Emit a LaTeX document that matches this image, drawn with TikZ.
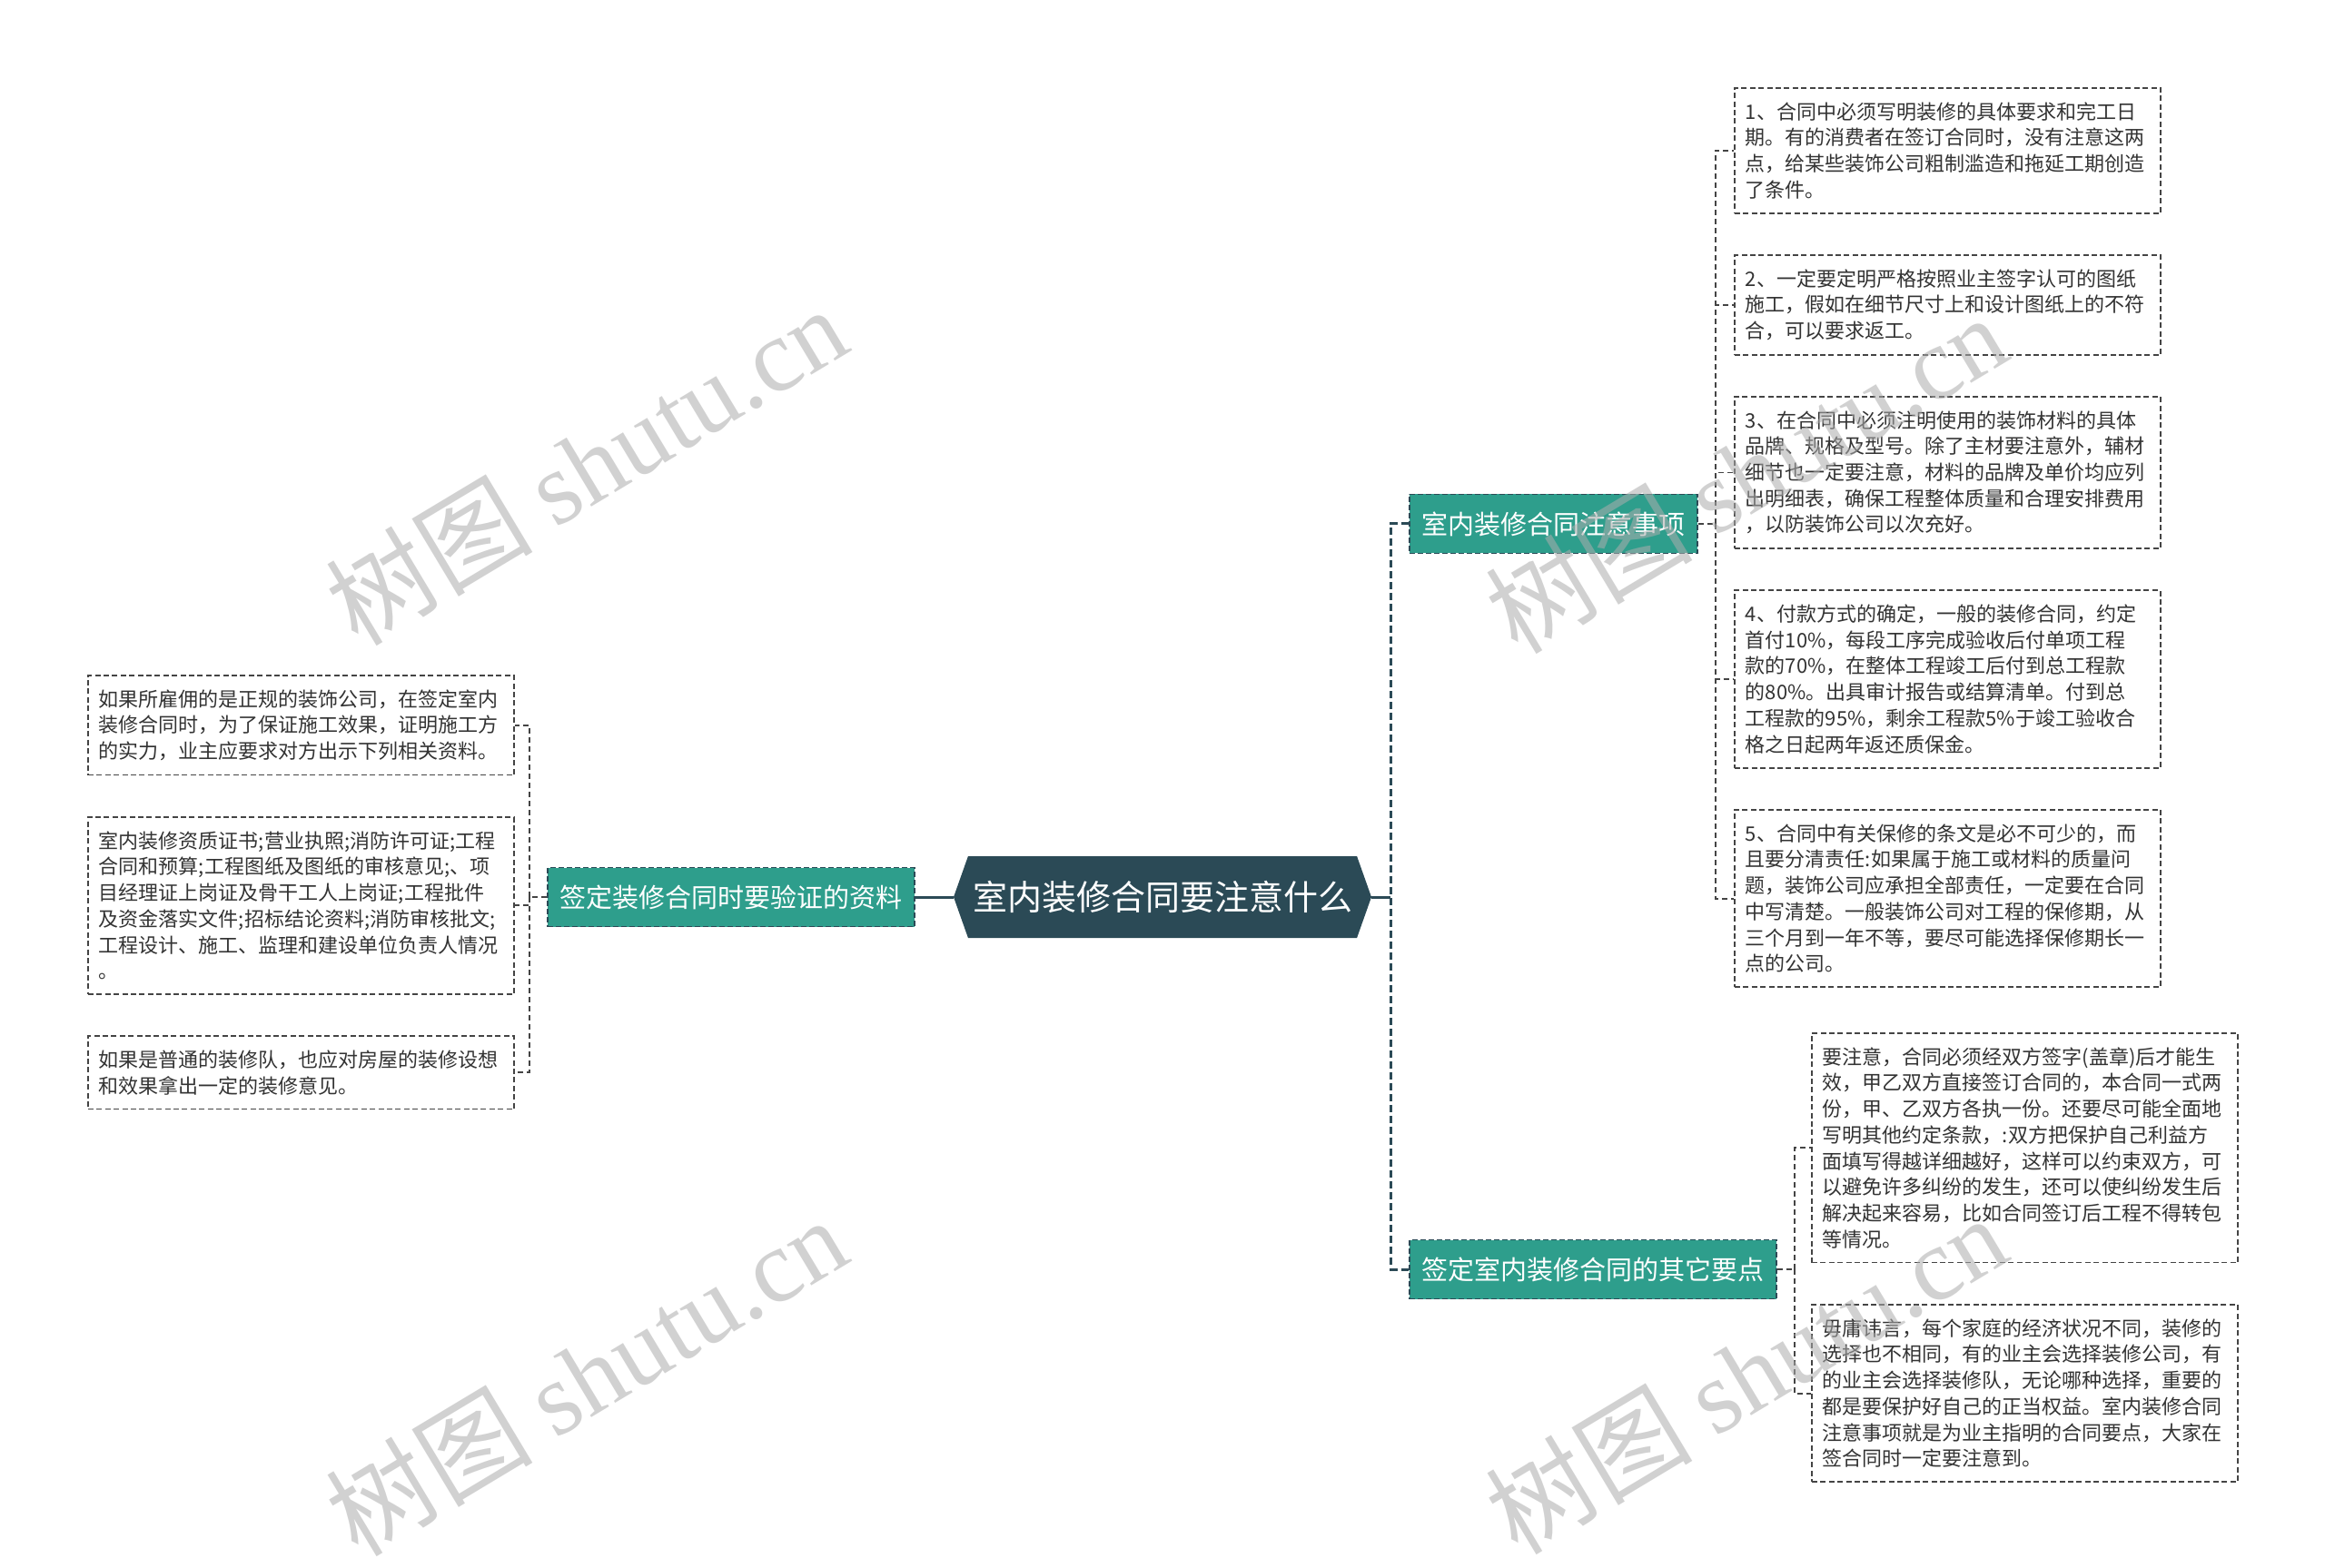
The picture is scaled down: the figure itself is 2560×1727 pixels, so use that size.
\documentclass[tikz,border=0pt]{standalone}
\usepackage{fontspec}
\setmainfont{Noto Sans CJK SC}
\newfontfamily\markfont{Liberation Serif}
\usepackage{xcolor}
\usetikzlibrary{positioning, shapes.symbols}

\definecolor{rootfill}{HTML}{2B4A56}
\definecolor{branchfill}{HTML}{2E9E8C}
\definecolor{leaftext}{HTML}{333333}
\definecolor{linkgray}{HTML}{444444}

\begin{document}
\begin{tikzpicture}[
    x=0.5pt, y=-0.5pt,
    node distance=22.3pt and 21pt,
    root/.style={shape=signal, signal to=west and east, signal pointer angle=141, fill=rootfill, text=white, font=\fontsize{19pt}{22pt}\selectfont, minimum width=230pt, minimum height=45pt, inner xsep=0pt, inner ysep=0pt},
    branch/.style={draw=rootfill, line width=0.8pt, dash pattern=on 3pt off 1.5pt, fill=branchfill, text=white, font=\fontsize{14.5pt}{17pt}\selectfont, minimum height=32.5pt, inner xsep=6.75pt},
    leaf/.style={draw=linkgray, line width=0.9pt, dash pattern=on 3pt off 1.7pt, text=leaftext, font=\fontsize{11pt}{14.35pt}\selectfont, text width=222.5pt, align=left, inner xsep=6pt, inner ysep=7.8pt},
    stem/.style={rootfill, line width=1.5pt},
    trunk/.style={rootfill, line width=1.5pt, dash pattern=on 4pt off 2pt},
    twig/.style={linkgray, line width=0.95pt, dash pattern=on 3pt off 2pt},
    wmark/.style={text=black!32, text opacity=0.55, font=\fontsize{57pt}{60pt}\selectfont, rotate=31}
]
    \fill[white] (0,0) rectangle (2560,1727);
    \useasboundingbox (0,0) rectangle (2560,1727);

    % centre
    \node[root] (root) at (1280,988) {室内装修合同要注意什么};

    % left branch
    \node[branch, left=21pt of root] (lb) {签定装修合同时要验证的资料};
    \node[leaf, anchor=north west] (m1) at (96,743) {如果所雇佣的是正规的装饰公司，在签定室内\\装修合同时，为了保证施工效果，证明施工方\\的实力，业主应要求对方出示下列相关资料。};
    \node[leaf, below=of m1] (m2) {室内装修资质证书;营业执照;消防许可证;工程\\合同和预算;工程图纸及图纸的审核意见;、项\\目经理证上岗证及骨干工人上岗证;工程批件\\及资金落实文件;招标结论资料;消防审核批文;\\工程设计、施工、监理和建设单位负责人情况\\。};
    \node[leaf, below=of m2] (m3) {如果是普通的装修队，也应对房屋的装修设想\\和效果拿出一定的装修意见。};

    % right branches
    \node[branch, anchor=west] (rb1) at (1551,577) {室内装修合同注意事项};
    \node[branch, anchor=west] (rb2) at (1551,1398) {签定室内装修合同的其它要点};

    % notes of first right branch
    \node[leaf, anchor=north west] (n1) at (1909,96) {1、合同中必须写明装修的具体要求和完工日\\期。有的消费者在签订合同时，没有注意这两\\点，给某些装饰公司粗制滥造和拖延工期创造\\了条件。};
    \node[leaf, below=of n1] (n2) {2、一定要定明严格按照业主签字认可的图纸\\施工，假如在细节尺寸上和设计图纸上的不符\\合，可以要求返工。};
    \node[leaf, below=of n2] (n3) {3、在合同中必须注明使用的装饰材料的具体\\品牌、规格及型号。除了主材要注意外，辅材\\细节也一定要注意，材料的品牌及单价均应列\\出明细表，确保工程整体质量和合理安排费用\\，以防装饰公司以次充好。};
    \node[leaf, below=of n3] (n4) {4、付款方式的确定，一般的装修合同，约定\\首付10\%，每段工序完成验收后付单项工程\\款的70\%，在整体工程竣工后付到总工程款\\的80\%。出具审计报告或结算清单。付到总\\工程款的95\%，剩余工程款5\%于竣工验收合\\格之日起两年返还质保金。};
    \node[leaf, below=of n4] (n5) {5、合同中有关保修的条文是必不可少的，而\\且要分清责任:如果属于施工或材料的质量问\\题，装饰公司应承担全部责任，一定要在合同\\中写清楚。一般装饰公司对工程的保修期，从\\三个月到一年不等，要尽可能选择保修期长一\\点的公司。};

    % notes of second right branch
    \node[leaf, anchor=north west] (n6) at (1994,1137) {要注意，合同必须经双方签字(盖章)后才能生\\效，甲乙双方直接签订合同的，本合同一式两\\份，甲、乙双方各执一份。还要尽可能全面地\\写明其他约定条款，:双方把保护自己利益方\\面填写得越详细越好，这样可以约束双方，可\\以避免许多纠纷的发生，还可以使纠纷发生后\\解决起来容易，比如合同签订后工程不得转包\\等情况。};
    \node[leaf, below=of n6] (n7) {毋庸讳言，每个家庭的经济状况不同，装修的\\选择也不相同，有的业主会选择装修公司，有\\的业主会选择装修队，无论哪种选择，重要的\\都是要保护好自己的正当权益。室内装修合同\\注意事项就是为业主指明的合同要点，大家在\\签合同时一定要注意到。};

    % links
    \coordinate (f0) at ([xshift=-9.5pt]lb.west);
    \coordinate (fr) at ([xshift=10.5pt]root.east);
    \coordinate (f1) at ([xshift=9.5pt]rb1.east);
    \coordinate (f2) at ([xshift=9.5pt]rb2.east);

    \draw[stem] (root.west) -- (lb.east);
    \draw[stem] (root.east) -- (fr);
    \draw[trunk] (rb1.west) -| (fr) |- (rb2.west);

    \draw[twig] (lb.west) -- (f0);
    \foreach \m in {m1,m2,m3}
        \draw[twig] (f0) |- (\m.east);
    \draw[twig] (rb1.east) -- (f1);
    \foreach \n in {n1,n2,n3,n4,n5}
        \draw[twig] (f1) |- (\n.west);
    \draw[twig] (rb2.east) -- (f2);
    \foreach \n in {n6,n7}
        \draw[twig] (f2) |- (\n.west);

    % watermarks
    \node[wmark] (w1) at (645,512) {树图 {\markfont shutu.cn}};
    \node[wmark] (w2) at (645,1515) {树图 {\markfont shutu.cn}};
    \node[wmark] (w3) at (1922,521) {树图 {\markfont shutu.cn}};
    \node[wmark] (w4) at (1922,1513) {树图 {\markfont shutu.cn}};
\end{tikzpicture}
\end{document}
